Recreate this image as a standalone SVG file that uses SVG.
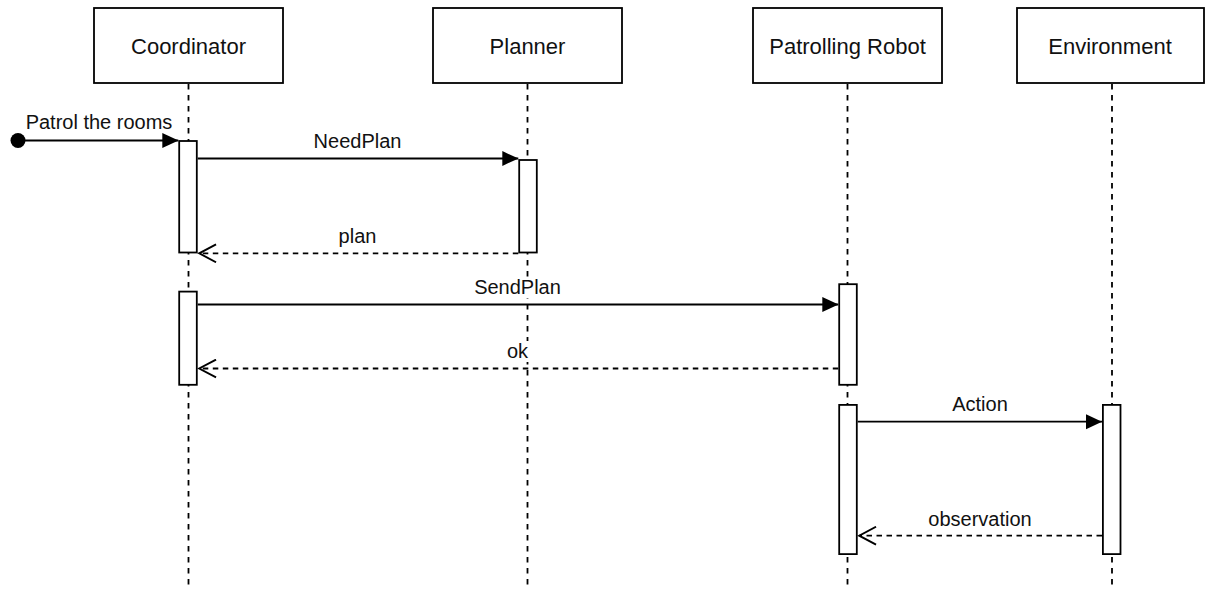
<svg xmlns="http://www.w3.org/2000/svg" width="1205" height="590" viewBox="0 0 1205 590">
  <style>
    .box { fill: #ffffff; stroke: #000000; stroke-width: 1.8; }
    .act { fill: #ffffff; stroke: #000000; stroke-width: 1.8; }
    .life { fill: none; stroke: #000000; stroke-width: 1.8; stroke-dasharray: 5.5 5.5; }
    .msg { fill: none; stroke: #000000; stroke-width: 1.8; }
    .ret { fill: none; stroke: #000000; stroke-width: 1.8; stroke-dasharray: 5.5 4.5; }
    .lbg { fill: #ffffff; }
    .name { font-family: "Liberation Sans", Arial, Helvetica, sans-serif; font-size: 22px; fill: #111111; text-anchor: middle; }
    .label { font-family: "Liberation Sans", Arial, Helvetica, sans-serif; font-size: 20px; fill: #111111; text-anchor: middle; }
  </style>
  <defs>
    <!-- synchronous call: filled triangle -->
    <marker id="filled" markerUnits="userSpaceOnUse" markerWidth="16" markerHeight="16" viewBox="0 0 15 14" refX="15" refY="7" orient="auto">
      <path d="M0,0 L15,7 L0,14 Z" fill="#000000"/>
    </marker>
    <!-- reply: open chevron -->
    <marker id="open" markerUnits="userSpaceOnUse" markerWidth="20" markerHeight="20" viewBox="-1 -1 19 19" refX="16" refY="8.5" orient="auto">
      <path d="M0,0 L16,8.5 L0,17" fill="none" stroke="#000000" stroke-width="1.8"/>
    </marker>
  </defs>

  <rect width="1205" height="590" fill="#ffffff"/>

  <!-- lifelines -->
  <g id="lifelines">
    <line class="life" x1="188.5" y1="84" x2="188.5" y2="590"/>
    <line class="life" x1="527.5" y1="84" x2="527.5" y2="590"/>
    <line class="life" x1="847.5" y1="84" x2="847.5" y2="590"/>
    <line class="life" x1="1112" y1="84" x2="1112" y2="590"/>
  </g>

  <g id="coordinator">
    <rect class="box" x="94" y="8" width="189" height="75"/>
    <text class="name" x="188.5" y="53.5">Coordinator</text>
    <rect class="act" x="179.2" y="141" width="17.6" height="111.5"/>
    <rect class="act" x="179.2" y="291.6" width="17.6" height="93.2"/>
  </g>

  <g id="planner">
    <rect class="box" x="433" y="8" width="189" height="75"/>
    <text class="name" x="527.5" y="53.5">Planner</text>
    <rect class="act" x="519.2" y="160" width="17.6" height="92.5"/>
  </g>

  <g id="patrolling-robot">
    <rect class="box" x="753" y="8" width="189" height="75"/>
    <text class="name" x="847.5" y="53.5">Patrolling Robot</text>
    <rect class="act" x="839.2" y="284.2" width="17.6" height="100.6"/>
    <rect class="act" x="839.2" y="404.9" width="17.6" height="149.2"/>
  </g>

  <g id="environment">
    <rect class="box" x="1017" y="8" width="187" height="75"/>
    <text class="name" x="1110" y="53.5">Environment</text>
    <rect class="act" x="1102.9" y="404.9" width="17.6" height="149.2"/>
  </g>

  <!-- messages -->
  <g id="connectors">
    <circle cx="18" cy="140.5" r="7.5" fill="#000000"/>
    <line class="msg" x1="18" y1="140.5" x2="178.3" y2="140.5" marker-end="url(#filled)"/>
    <text class="label" x="99" y="129">Patrol the rooms</text>

    <line class="msg" x1="197.7" y1="158.5" x2="518.3" y2="158.5" marker-end="url(#filled)"/>
    <text class="label" x="357.5" y="147.5">NeedPlan</text>

    <line class="ret" x1="518.3" y1="253.3" x2="199.2" y2="253.3" marker-end="url(#open)"/>
    <text class="label" x="357.5" y="242.5">plan</text>

    <line class="msg" x1="197.7" y1="304.5" x2="838.3" y2="304.5" marker-end="url(#filled)"/>
    <rect class="lbg" x="474" y="278" width="87" height="20"/>
    <text class="label" x="517.5" y="293.5">SendPlan</text>

    <line class="ret" x1="838.3" y1="368.5" x2="199.2" y2="368.5" marker-end="url(#open)"/>
    <rect class="lbg" x="506" y="341" width="23" height="21"/>
    <text class="label" x="517.5" y="357.5">ok</text>

    <line class="msg" x1="857.7" y1="421.7" x2="1102" y2="421.7" marker-end="url(#filled)"/>
    <text class="label" x="980" y="410.5">Action</text>

    <line class="ret" x1="1102" y1="535.7" x2="859.2" y2="535.7" marker-end="url(#open)"/>
    <text class="label" x="980" y="525.5">observation</text>
  </g>
</svg>
